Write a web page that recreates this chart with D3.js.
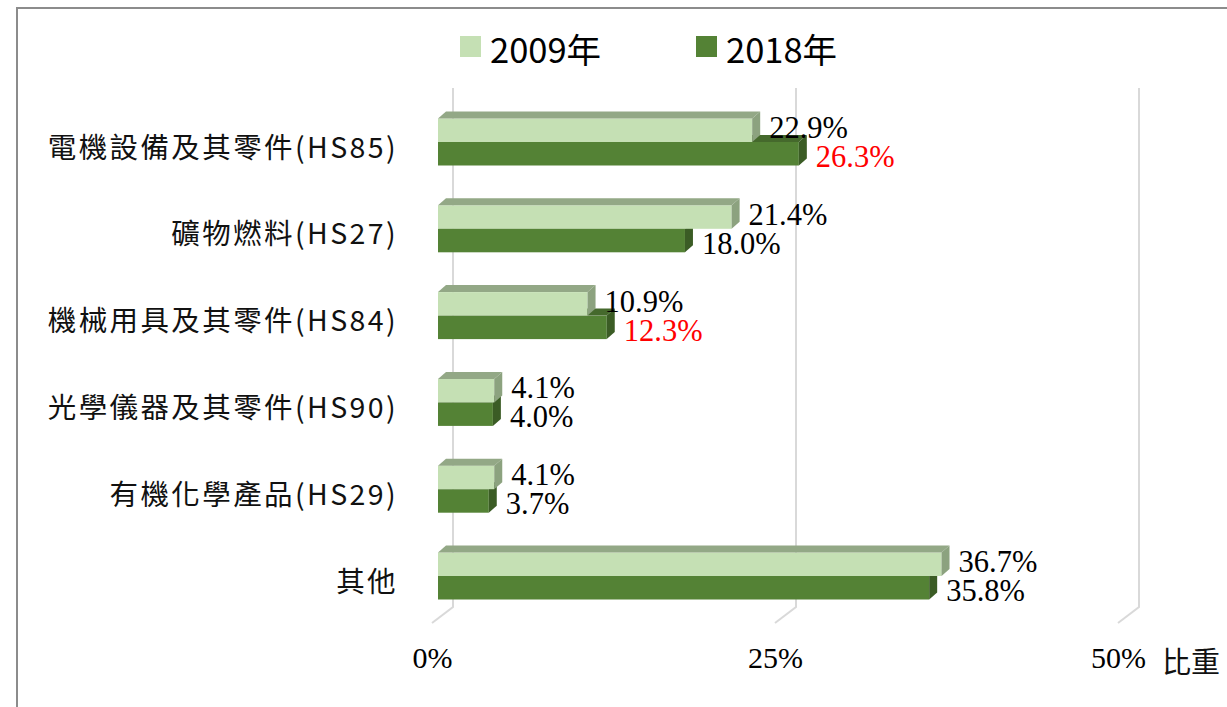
<!DOCTYPE html>
<html>
<head>
<meta charset="utf-8">
<script src="https://cdn.jsdelivr.net/npm/d3@7"></script>
<style>
  body { margin: 0; background: #fff; }
  .tick text { font-family: "Liberation Serif", "Times New Roman", serif; }
</style>
</head>
<body>
<div class="canvas"></div>
<script>
// Data
const categories = ['電機設備及其零件(HS85)', '礦物燃料(HS27)', '機械用具及其零件(HS84)', '光學儀器及其零件(HS90)', '有機化學產品(HS29)', '其他']
const series = ['2009年', '2018年']
const values2009 = [22.9, 21.4, 10.9, 4.1, 4.1, 36.7]
const values2018 = [26.3, 18.0, 12.3, 4.0, 3.7, 35.8]
const red2018 = [true, false, true, false, false, false]
const tickValues = [0, 25, 50]
const unitLabel = '比重'

const width = 1227
const height = 707

const svg = d3.select('.canvas')
  .append('svg')
  .attr('width', width)
  .attr('height', height)

// outer frame
svg.append('rect')
  .attr('x', 17).attr('y', 8)
  .attr('width', 1240).attr('height', 720)
  .attr('fill', 'none')
  .attr('stroke', '#8c8c8c')
  .attr('stroke-width', 2)

// Scales (x is the bar front plane)
const x = d3.scaleLinear().domain([0, 50]).range([438, 1124])
const y = d3.scaleBand().domain(categories).range([98.6, 619.4])
const sub = d3.scaleBand().domain(series).range([-23.5, 23.5])

// 3d offsets
const depth = { dx: 8, dy: -7 }
const wall = { dx: 15, top: 88, bottom: 607 }
const floorFront = { dx: -6, y: 623 }

const colors = {
  '2009年': { front: '#c5e0b4', top: '#93a886', side: '#8ca27f' },
  '2018年': { front: '#548235', top: '#45692c', side: '#3b5c25' }
}

// gridlines on back wall + floor
const grid = svg.append('g')
tickValues.forEach(t => {
  const bx = x(t) + wall.dx
  grid.append('path')
    .attr('d', `M${bx},${wall.top} L${bx},${wall.bottom} L${x(t) + floorFront.dx},${floorFront.y}`)
    .attr('fill', 'none')
    .attr('stroke', '#d9d9d9')
    .attr('stroke-width', 2)
})

// rows: one entry per category
const rows = categories.map((c, i) => ({
  cat: c,
  bars: [
    { s: '2009年', v: values2009[i], red: false },
    { s: '2018年', v: values2018[i], red: red2018[i] }
  ]
}))

const barGroup = svg.append('g')

rows.forEach(row => {
  const cy = y(row.cat) + y.bandwidth() / 2
  // draw 2018 first so 2009 sits on top of it
  row.bars.slice().reverse().forEach(b => {
    const y0 = cy + sub(b.s)
    const h = sub.bandwidth()
    const x0 = x(0)
    const x1 = x(b.v)
    const c = colors[b.s]
    const g = barGroup.append('g')
    g.append('rect')
      .attr('x', x0).attr('y', y0)
      .attr('width', x1 - x0).attr('height', h)
      .attr('fill', c.front)
    g.append('path')
      .attr('d', `M${x0},${y0} L${x0 + depth.dx},${y0 + depth.dy} L${x1 + depth.dx},${y0 + depth.dy} L${x1},${y0} Z`)
      .attr('fill', c.top)
    g.append('path')
      .attr('d', `M${x1},${y0} L${x1 + depth.dx},${y0 + depth.dy} L${x1 + depth.dx},${y0 + h + depth.dy} L${x1},${y0 + h} Z`)
      .attr('fill', c.side)
  })
})

// value labels
rows.forEach(row => {
  const cy = y(row.cat) + y.bandwidth() / 2
  row.bars.forEach((b, j) => {
    svg.append('text')
      .attr('x', x(b.v) + 17)
      .attr('y', cy + (j === 0 ? -14 : 15))
      .attr('dominant-baseline', 'central')
      .attr('font-family', '"Liberation Serif", "Times New Roman", serif')
      .attr('font-size', 30.5)
      .attr('fill', b.red ? '#ff0000' : '#000')
      .text(b.v.toFixed(1) + '%')
  })
})

// category labels
svg.append('g')
  .selectAll('text')
  .data(categories)
  .enter()
  .append('text')
  .attr('x', 398)
  .attr('y', d => y(d) + y.bandwidth() / 2 + 3)
  .attr('text-anchor', 'end')
  .attr('dominant-baseline', 'central')
  .attr('font-family', '"Noto Sans CJK TC", "Noto Sans", sans-serif')
  .attr('font-size', 28.5)
  .attr('letter-spacing', 2.4)
  .attr('fill', '#111')
  .text(d => d)

// x axis (on floor front edge)
const xAxis = d3.axisBottom(x)
  .tickValues(tickValues)
  .tickSize(0)
  .tickPadding(0)
  .tickFormat(d => d + '%')

const xAxisGroup = svg.append('g')
  .attr('transform', `translate(${floorFront.dx}, 647)`)
  .call(xAxis)
xAxisGroup.select('.domain').remove()
xAxisGroup.selectAll('text')
  .attr('font-size', 30)
  .attr('fill', '#000')

svg.append('text')
  .attr('x', 1162)
  .attr('y', 660)
  .attr('dominant-baseline', 'central')
  .attr('font-family', '"Noto Sans CJK TC", sans-serif')
  .attr('font-size', 29)
  .attr('fill', '#111')
  .text(unitLabel)

// legend
const legendX = [460, 696]
const legend = svg.append('g')
series.forEach((s, i) => {
  legend.append('rect')
    .attr('x', legendX[i]).attr('y', 36)
    .attr('width', 21).attr('height', 21)
    .attr('fill', colors[s].front)
  legend.append('text')
    .attr('x', legendX[i] + 30)
    .attr('y', 48)
    .attr('dominant-baseline', 'central')
    .attr('font-family', '"Noto Sans CJK TC", "Noto Sans", sans-serif')
    .attr('font-size', 34.5)
    .attr('fill', '#000')
    .text(s)
})
</script>
</body>
</html>
